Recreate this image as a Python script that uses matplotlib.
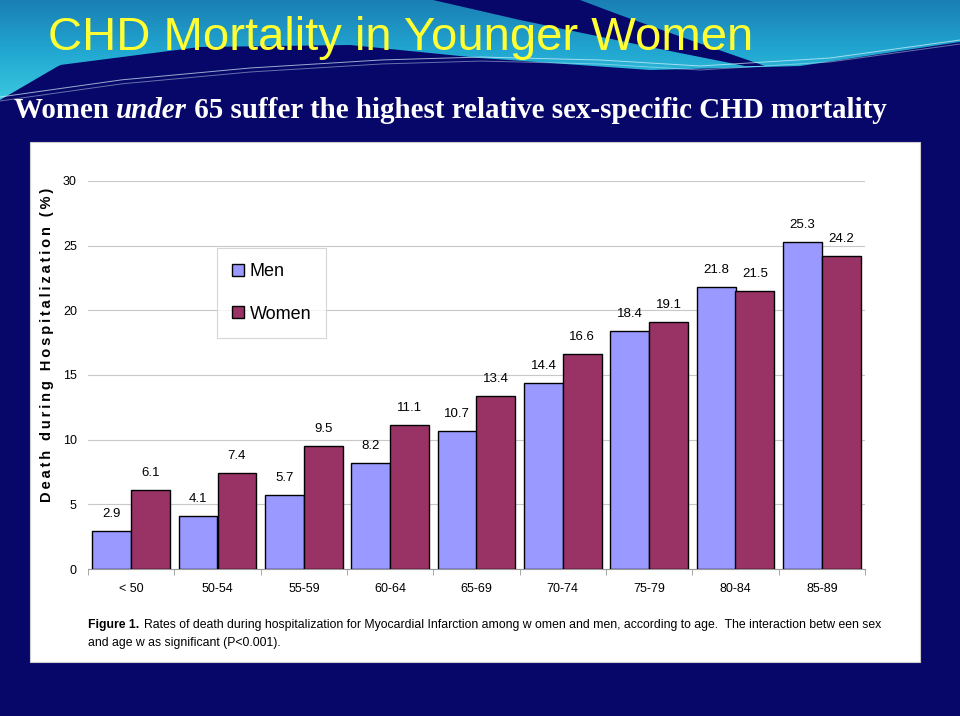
import numpy as np
import matplotlib
matplotlib.use("Agg")
import matplotlib.pyplot as plt
from matplotlib.patches import Rectangle, Polygon
from matplotlib.colors import LinearSegmentedColormap

# data
age_groups = ["< 50", "50-54", "55-59", "60-64", "65-69", "70-74", "75-79", "80-84", "85-89"]
men = [2.9, 4.1, 5.7, 8.2, 10.7, 14.4, 18.4, 21.8, 25.3]
women = [6.1, 7.4, 9.5, 11.1, 13.4, 16.6, 19.1, 21.5, 24.2]

NAVY = "#07076a"
MEN_C = "#9999ff"
WOMEN_C = "#993366"

fig = plt.figure(figsize=(9.6, 7.16), dpi=100, facecolor=NAVY)

# --- slide header swoosh (decoration only) ---
bg = fig.add_axes([0, 0, 1, 1], zorder=-10)
bg.set_xlim(0, 960)
bg.set_ylim(716, 0)
bg.axis("off")
xs = np.linspace(0, 960, 300)
edge = np.interp(xs, [0, 60, 200, 350, 480, 650, 800, 960], [100, 65, 47, 45, 58, 70, 66, 42])
cyan_poly = Polygon(np.column_stack([np.r_[xs, 960, 0], np.r_[edge, 0, 0]]), closed=True,
                    facecolor="none", edgecolor="none")
bg.add_patch(cyan_poly)
grad = np.linspace(0, 1, 100).reshape(-1, 1)
cmap = LinearSegmentedColormap.from_list("sw", ["#1a7fb4", "#22a8d2", "#3dcbe0"])
im = bg.imshow(grad, extent=[0, 960, 105, 0], cmap=cmap, aspect="auto", zorder=1)
im.set_clip_path(cyan_poly)

# thin dark streak across the swoosh
wy = np.linspace(0, 66, 40)
wl = np.interp(wy, [0, 20, 45, 66], [433, 520, 640, 745])
wr = np.interp(wy[::-1], [0, 15, 40, 66], [580, 620, 690, 765])
bg.add_patch(Polygon(np.column_stack([np.r_[wl, wr], np.r_[wy, wy[::-1]]]),
                     closed=True, facecolor=NAVY, edgecolor="none", zorder=2))
for off, a in ((0, 0.7), (4, 0.45)):
    ly = np.interp(xs, [0, 120, 250, 380, 480, 600, 700, 830, 960],
                   [97, 80, 68, 60, 57, 60, 66, 58, 40])
    bg.plot(xs, ly + off, color="#d8f3fa", lw=0.7, alpha=a, zorder=3)

# white panel
fig.patches.append(Rectangle((30 / 960, 1 - 662 / 716), 890 / 960, 520 / 716,
                             transform=fig.transFigure, facecolor="white",
                             edgecolor="#cccccc", lw=0.8, zorder=-5))

# titles
fig.text(48 / 960, 1 - 38 / 716, "CHD Mortality in Younger Women", color="#ffff33",
         fontsize=34, family="Liberation Sans", va="center", ha="left")

renderer = fig.canvas.get_renderer()
parts = [("Women ", "normal"), ("under", "italic"),
         (" 65 suffer the highest relative sex-specific CHD mortality", "normal")]
xpos = 14 / 960
for s, style in parts:
    tx = fig.text(xpos, 1 - 111 / 716, s, color="white", fontsize=20.9, family="Liberation Serif",
                  weight="bold", style=style, va="center", ha="left")
    bb = tx.get_window_extent(renderer=renderer)
    xpos += bb.width / 960

# --- chart ---
ax = fig.add_axes([88 / 960, 1 - 569 / 716, 777 / 960, 388 / 716])
x = np.arange(len(age_groups))
w = 0.45
b1 = ax.bar(x - w / 2, men, w, color=MEN_C, edgecolor="black", lw=1, label="Men", zorder=3)
b2 = ax.bar(x + w / 2, women, w, color=WOMEN_C, edgecolor="black", lw=1, label="Women", zorder=3)
for bars, vals in ((b1, men), (b2, women)):
    for r, v in zip(bars, vals):
        ax.annotate(f"{v}", (r.get_x() + r.get_width() / 2, v), xytext=(0, 8),
                    textcoords="offset points", ha="center", va="bottom",
                    fontsize=9.5, family="Liberation Sans")

ax.set_xlim(-0.5, len(age_groups) - 0.5)
ax.set_ylim(0, 30)
ax.set_yticks(range(0, 31, 5))
ax.set_xticks(x)
ax.set_xticklabels(age_groups, fontsize=9, family="Liberation Sans")
ax.set_xticks(np.arange(-0.5, len(age_groups), 1), minor=True)
ax.tick_params(axis="x", which="major", length=0, pad=10)
ax.tick_params(axis="x", which="minor", length=4, color="#999999")
ax.tick_params(axis="y", length=0, pad=8, labelsize=9)
for lb in ax.get_yticklabels():
    lb.set_family("Liberation Sans")
ax.grid(axis="y", color="#c8c8c8", lw=0.8, zorder=0)
for s in ("top", "right", "left"):
    ax.spines[s].set_visible(False)
ax.spines["bottom"].set_color("#999999")

# y label with widened letter spacing, as on the slide
ylab = "Death during Hospitalization (%)"
spaced = "\u2009".join(ylab)
fig.text(47 / 960, 1 - 345 / 716, spaced, rotation=90, fontsize=10.5, weight="bold",
         family=["Liberation Sans", "DejaVu Sans"], ha="center", va="center")

leg = fig.legend(handles=[b1, b2], loc="upper left", bbox_to_anchor=(217 / 960, 1 - 248 / 716),
                 borderaxespad=0, prop={"family": "Liberation Sans", "size": 13},
                 frameon=True, fancybox=False, edgecolor="#cccccc", labelspacing=1.4,
                 handlelength=0.65, handleheight=0.65, handletextpad=0.3, borderpad=0.85)
leg.get_frame().set_linewidth(0.8)

# caption
cap_font = "Liberation Sans"
c1 = fig.text(88 / 960, 1 - 625 / 716, "Figure 1.", fontsize=8.8, weight="bold",
              family=cap_font, va="center")
bb = c1.get_window_extent(renderer=renderer)
fig.text(88 / 960 + bb.width / 960 + 0.005, 1 - 625 / 716,
         "Rates of death during hospitalization for Myocardial Infarction among w omen and men, "
         "according to age.  The interaction betw een sex",
         fontsize=8.8, family=cap_font, va="center")
fig.text(88 / 960, 1 - 643 / 716, "and age w as significant (P<0.001).", fontsize=8.8,
         family=cap_font, va="center")

fig.savefig("out.png", dpi=100, facecolor=NAVY)
